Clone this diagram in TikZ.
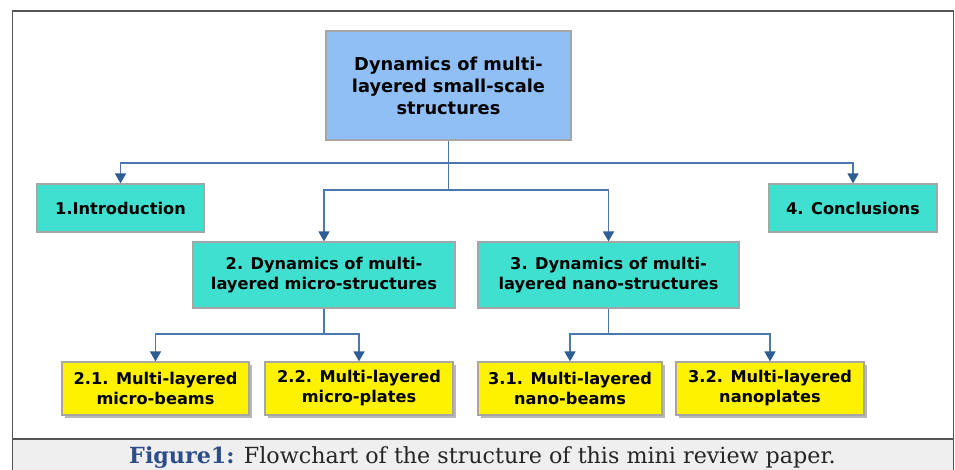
\documentclass[tikz,border=0pt]{standalone}
\usepackage{fontspec}
\setmainfont{DejaVu Serif}
\newfontfamily\boxfont{DejaVu Sans}
\usetikzlibrary{arrows.meta,shadows}
\definecolor{topblue}{HTML}{8FBFF5}
\definecolor{turq}{HTML}{40E0D0}
\definecolor{linkblue}{HTML}{4A78B0}
\definecolor{tipblue}{HTML}{2E5C94}
\definecolor{capblue}{HTML}{2C4C8C}
\definecolor{boxedge}{HTML}{A6A6A6}
\definecolor{capgrey}{HTML}{EFEFEF}
\definecolor{framegrey}{HTML}{555555}
\tikzset{
  box/.style={draw=boxedge, line width=1.2pt, align=center, inner sep=0pt,
    font=\boxfont\bfseries\fontsize{16.2}{20}\selectfont},
  topbox/.style={box, fill=topblue, font=\boxfont\bfseries\fontsize{17.8}{22}\selectfont},
  secbox/.style={box, fill=turq},
  subbox/.style={box, fill=yellow,
    drop shadow={shadow xshift=3pt, shadow yshift=-3pt, fill=gray!70, opacity=0.8}},
  link/.style={draw=linkblue, line width=1.5pt},
  arr/.style={link, -{Triangle[width=11pt,length=10pt,color=tipblue]}}
}
\begin{document}
\begin{tikzpicture}[x=1pt, y=-1pt]
  \useasboundingbox (0,0) rectangle (955,470);
  % frame and caption band
  \fill[capgrey] (12.5,439) rectangle (953.5,480);
  \draw[framegrey, line width=1.5pt] (12.5,480) -- (12.5,11) -- (953.5,11) -- (953.5,480);
  \draw[framegrey, line width=1.5pt] (12.5,439) -- (953.5,439);
  \node[font=\fontsize{22.2}{26}\selectfont, color=black!85, anchor=base] (caption) at (482.5,463.5)
    {\textcolor{capblue}{\bfseries Figure1:} Flowchart of the structure of this mini review paper.};
  % boxes
  \node[topbox, minimum width=245pt, minimum height=109pt] (top) at (448.5,85.5)
    {Dynamics of multi-\\layered small-scale\\structures};
  \node[secbox, minimum width=167pt, minimum height=48pt] (intro) at (120.5,208) {1.Introduction};
  \node[secbox, minimum width=168pt, minimum height=48pt] (concl) at (853,208) {4. Conclusions};
  \node[secbox, minimum width=262pt, minimum height=66pt] (micro) at (324,275)
    {2. Dynamics of multi-\\layered micro-structures};
  \node[secbox, minimum width=261pt, minimum height=66pt] (nano) at (608.5,275)
    {3. Dynamics of multi-\\layered nano-structures};
  \node[subbox, minimum width=187pt, minimum height=53pt] (mbeams) at (155.5,388.5)
    {2.1. Multi-layered\\micro-beams};
  \node[subbox, minimum width=188pt, minimum height=53pt] (mplates) at (359,388.5)
    {2.2. Multi-layered\\micro-plates};
  \node[subbox, minimum width=184pt, minimum height=53pt] (nbeams) at (570,388.5)
    {3.1. Multi-layered\\nano-beams};
  \node[subbox, minimum width=188pt, minimum height=53pt] (nplates) at (770,388.5)
    {3.2. Multi-layered\\nanoplates};
  % connectors
  \coordinate (busA) at (448.5,163);
  \coordinate (busB) at (448.5,190);
  \coordinate (busC) at (324,334);
  \coordinate (busD) at (608.5,334);
  \draw[link] (top.south) -- (busB);
  \draw[arr] (busA) -| (intro.north);
  \draw[arr] (busA) -| (concl.north);
  \draw[arr] (busB) -| (micro.north);
  \draw[arr] (busB) -| (nano.north);
  \draw[link] (micro.south) -- (busC);
  \draw[arr] (busC) -| (mbeams.north);
  \draw[arr] (busC) -| (mplates.north);
  \draw[link] (nano.south) -- (busD);
  \draw[arr] (busD) -| (nbeams.north);
  \draw[arr] (busD) -| (nplates.north);
\end{tikzpicture}
\end{document}
